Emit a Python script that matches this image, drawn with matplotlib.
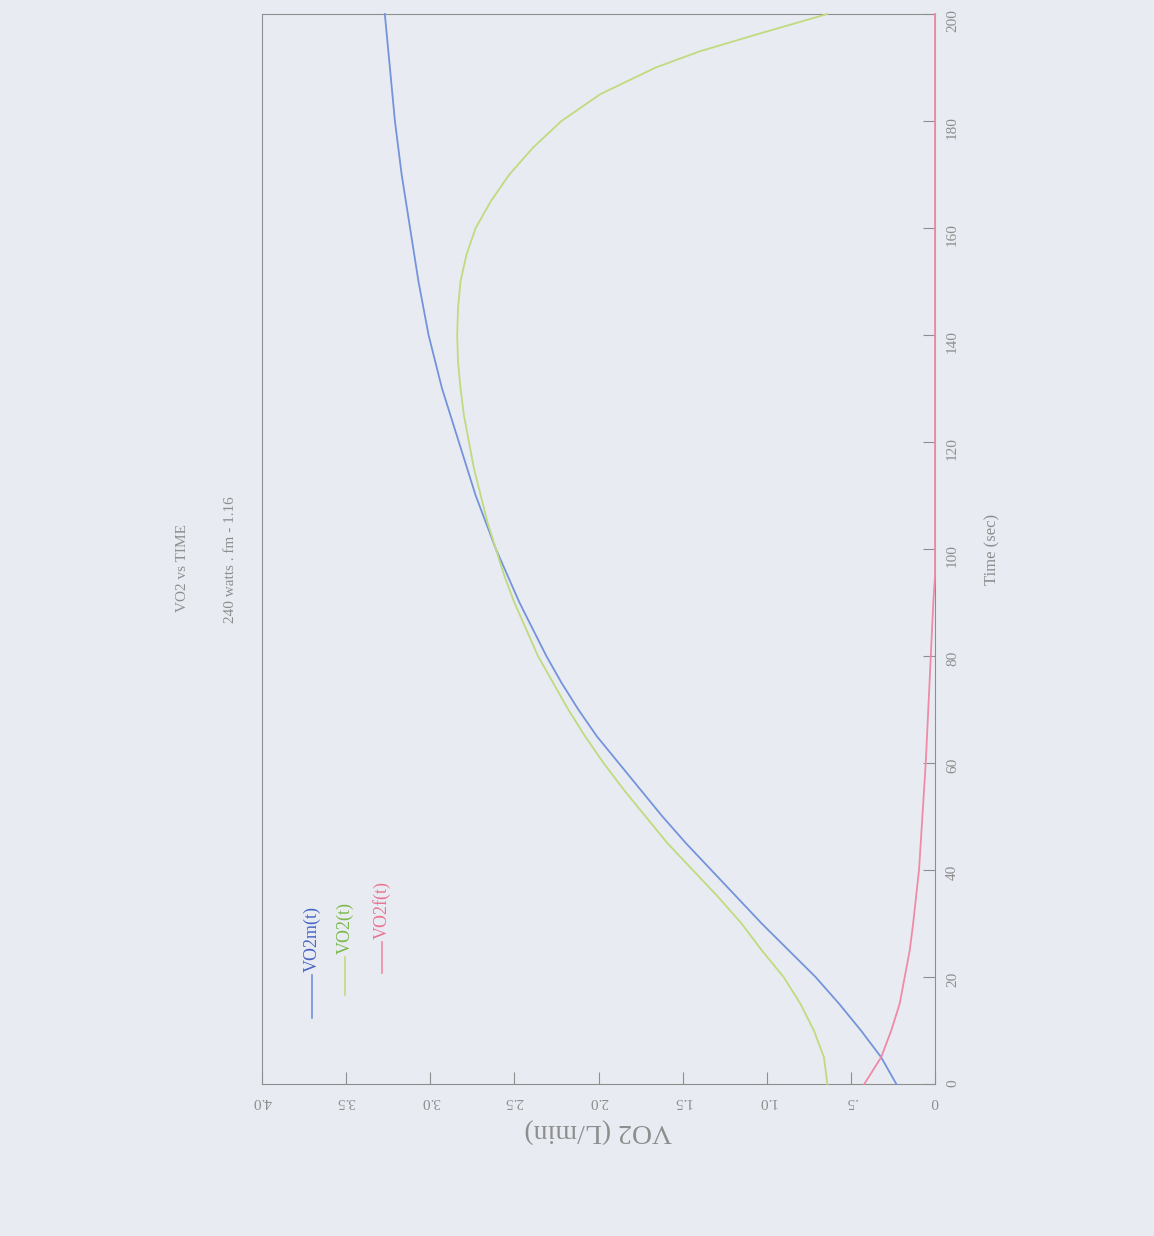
import matplotlib
matplotlib.use("Agg")
import matplotlib.pyplot as plt

t_vo2m = [0, 5, 10, 15, 20, 25, 30, 35, 40, 45, 50, 55, 60, 65, 70, 75, 80, 85,
          90, 95, 100, 105, 110, 115, 120, 130, 140, 150, 160, 170, 180, 190, 200]
vo2m = [0.23, 0.32, 0.44, 0.57, 0.71, 0.87, 1.03, 1.18, 1.33, 1.48, 1.62, 1.75,
        1.88, 2.01, 2.12, 2.22, 2.31, 2.39, 2.47, 2.54, 2.61, 2.67, 2.73, 2.78,
        2.83, 2.93, 3.01, 3.07, 3.12, 3.17, 3.21, 3.24, 3.27]

t_vo2 = [0, 5, 10, 15, 20, 25, 30, 35, 40, 45, 50, 55, 60, 65, 70, 75, 80, 85,
         90, 95, 100, 105, 110, 115, 120, 125, 130, 135, 140, 145, 150, 155, 160,
         165, 170, 175, 180, 185, 190, 193, 196, 198, 200]
vo2 = [0.64, 0.66, 0.72, 0.80, 0.90, 1.03, 1.15, 1.29, 1.44, 1.59, 1.72, 1.85,
       1.97, 2.08, 2.18, 2.27, 2.36, 2.43, 2.50, 2.56, 2.61, 2.66, 2.70, 2.74,
       2.77, 2.80, 2.82, 2.835, 2.84, 2.835, 2.82, 2.785, 2.73, 2.64, 2.53, 2.39,
       2.22, 1.99, 1.66, 1.40, 1.08, 0.86, 0.64]

t_vo2f = [0, 5, 10, 15, 20, 25, 30, 40, 50, 60, 70, 80, 90, 95, 100, 150, 200]
vo2f = [0.42, 0.32, 0.26, 0.21, 0.18, 0.15, 0.13, 0.095, 0.075, 0.055, 0.04,
        0.025, 0.01, 0.0, 0.0, 0.0, 0.0]

vo2_ticks = [0, 0.5, 1.0, 1.5, 2.0, 2.5, 3.0, 3.5, 4.0]
vo2_ticklabels = ["0", ".5", "1.0", "1.5", "2.0", "2.5", "3.0", "3.5", "4.0"]
time_ticks = [0, 20, 40, 60, 80, 100, 120, 140, 160, 180, 200]
time_ticklabels = [str(t) for t in time_ticks]

series_names = ["VO2m(t)", "VO2(t)", "VO2f(t)"]
line_colors = ["#7393dc", "#c0da7e", "#f08aa6"]
text_colors = ["#4a66c6", "#7cb84e", "#ea7592"]

BG = "#e8ecf2"
GREY = "#8e8e8e"

plt.rcParams['font.family'] = ['Liberation Serif', 'DejaVu Serif']

W, H = 1154, 1236
fig = plt.figure(figsize=(W / 100, H / 100), dpi=100, facecolor=BG)

# axes box in pixels: x 262..935, y 14..1084 (the page is turned 90 degrees)
ax = fig.add_axes([262 / W, 1 - 1084 / H, (935 - 262) / W, 1070 / H])
ax.set_facecolor(BG)

for vals, times, col in zip([vo2m, vo2, vo2f], [t_vo2m, t_vo2, t_vo2f], line_colors):
    ax.plot(vals, times, color=col, lw=1.3, clip_on=False, zorder=3)

ax.set_xlim(4.0, 0)
ax.set_ylim(0, 200)

ax.set_xticks(vo2_ticks)
ax.set_xticklabels(vo2_ticklabels, rotation=180)
ax.yaxis.tick_right()
ax.set_yticks(time_ticks)
ax.set_yticklabels(time_ticklabels)
ax.tick_params(axis='x', direction='in', length=9, width=0.8, color=GREY,
               labelcolor=GREY, labelsize=11, pad=8)
ax.tick_params(axis='y', direction='in', length=9, width=0.8, color=GREY,
               labelcolor=GREY, labelsize=11, pad=8, labelrotation=90)

for side in ['left', 'right', 'top', 'bottom']:
    ax.spines[side].set_color(GREY)
    ax.spines[side].set_linewidth(0.8)

ax.set_xlabel("VO2 (L/min)", rotation=180, fontsize=20, color=GREY, labelpad=7)
ax.yaxis.set_label_position('right')
ax.set_ylabel("Time (sec)", rotation=90, fontsize=12, color=GREY, labelpad=18)

# titles, reading bottom to top like the rest of the turned page
fig.text(182 / W, 1 - 568 / H, "VO2 vs TIME", rotation=90, ha='center',
         va='center', fontsize=11, color=GREY)
fig.text(230 / W, 1 - 560 / H, "240 watts . fm - 1.16", rotation=90,
         ha='center', va='center', fontsize=11, color=GREY)

# staggered legend in the upper left of the turned plot
legend_x = [312, 345, 382]
legend_y0 = [1018, 995, 973]
legend_y1 = [975, 957, 942]
for name, lc, tc, lx, y0, y1 in zip(series_names, line_colors, text_colors,
                                     legend_x, legend_y0, legend_y1):
    ax_x = (lx - 262) / 673
    ax.plot([ax_x, ax_x], [(1084 - y0) / 1070, (1084 - y1) / 1070],
            transform=ax.transAxes, color=lc, lw=1.2)
    ax.text(ax_x, (1084 - y1 + 3) / 1070, name, transform=ax.transAxes,
            rotation=90, ha='center', va='bottom', fontsize=13, color=tc)

fig.savefig("out.png", dpi=100, facecolor=BG)
